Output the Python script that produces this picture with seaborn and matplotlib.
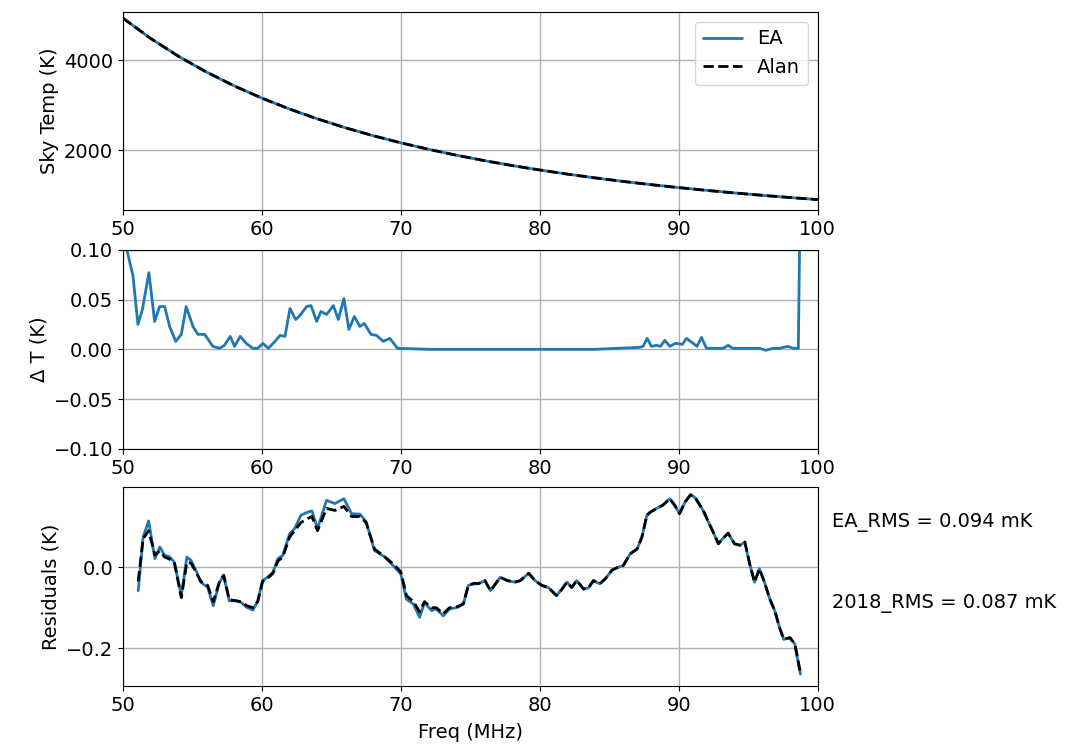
import numpy as np
import pandas as pd
import matplotlib
matplotlib.use('Agg')
import matplotlib.pyplot as plt
import seaborn as sns

# sky temperature
freq_sky = [50, 52, 54, 56, 58, 60, 62, 64, 66, 68, 70, 72, 74, 76, 78,
            80, 82, 84, 86, 88, 90, 92, 94, 96, 98, 100]
sky_ea = [4930, 4478, 4083, 3735, 3427, 3154, 2911, 2693, 2497, 2321, 2162,
          2018, 1887, 1767, 1658, 1559, 1467, 1383, 1305, 1234, 1168, 1107,
          1050, 997, 948, 902]
sky_alan = sky_ea

# difference between the two models
freq_dt = [50.0, 50.3, 50.72, 51.08, 51.4, 51.87, 52.28, 52.64, 53.0, 53.36,
           53.8, 54.2, 54.55, 55.04, 55.4, 55.88, 56.47, 56.95, 57.3, 57.72,
           58.03, 58.44, 58.87, 59.35, 59.7, 60.07, 60.46, 60.94, 61.3, 61.66,
           62.02, 62.43, 62.74, 63.22, 63.53, 63.94, 64.25, 64.66, 65.14, 65.5,
           65.9, 66.26, 66.65, 67.05, 67.37, 67.85, 68.25, 68.73, 69.2, 69.76,
           72.0, 76.0, 80.0, 84.0, 87.19, 87.43, 87.72, 88.03, 88.39, 88.68,
           88.99, 89.35, 89.78, 90.26, 90.55, 91.03, 91.31, 91.63, 91.99, 93.19,
           93.55, 93.9, 95.82, 96.25, 96.78, 97.26, 97.86, 98.22, 98.6, 98.95]
delta_t = [0.13, 0.099, 0.074, 0.025, 0.04, 0.077, 0.028, 0.043, 0.043, 0.023,
           0.008, 0.015, 0.043, 0.023, 0.015, 0.015, 0.003, 0.001, 0.004, 0.013,
           0.003, 0.013, 0.006, 0.001, 0.001, 0.006, 0.001, 0.008, 0.014, 0.013,
           0.041, 0.03, 0.034, 0.043, 0.044, 0.028, 0.038, 0.035, 0.044, 0.03,
           0.051, 0.02, 0.033, 0.023, 0.026, 0.015, 0.014, 0.008, 0.011, 0.001,
           0.0, 0.0, 0.0, 0.0, 0.002, 0.003, 0.011, 0.003, 0.004, 0.003,
           0.009, 0.003, 0.006, 0.005, 0.011, 0.006, 0.003, 0.012, 0.001, 0.001,
           0.004, 0.001, 0.001, -0.001, 0.001, 0.001, 0.003, 0.001, 0.001, 0.4]

# fit residuals
freq_res = [51.1, 51.45, 51.85, 52.3, 52.65, 53.0, 53.35, 53.7, 54.2, 54.6,
            54.9, 55.3, 55.6, 56.1, 56.5, 56.95, 57.25, 57.65, 58.15, 58.5,
            58.9, 59.35, 59.7, 60.05, 60.4, 60.8, 61.15, 61.5, 62.0, 62.35,
            62.8, 63.3, 63.6, 64.0, 64.65, 65.25, 65.9, 66.45, 67.05, 67.5,
            68.1, 68.85, 69.55, 70.0, 70.4, 70.9, 71.35, 71.7, 72.2, 72.55,
            73.05, 73.5, 74.1, 74.5, 74.85, 75.25, 75.6, 76.05, 76.45, 77.15,
            77.65, 78.2, 78.6, 79.2, 79.65, 80.15, 80.6, 81.2, 81.6, 81.95,
            82.3, 82.65, 83.15, 83.5, 83.85, 84.3, 84.7, 85.2, 85.65, 86.0,
            86.5, 87.0, 87.35, 87.7, 87.95, 88.4, 88.85, 89.35, 89.7, 90.05,
            90.45, 90.85, 91.25, 91.75, 92.25, 92.85, 93.15, 93.55, 94.0, 94.4,
            94.75, 95.1, 95.45, 95.8, 96.2, 96.55, 96.9, 97.25, 97.55, 98.0,
            98.35, 98.75]
res_ea = [-0.058, 0.074, 0.114, 0.021, 0.05, 0.029, 0.026, 0.012, -0.07, 0.025,
          0.017, -0.012, -0.037, -0.05, -0.095, -0.037, -0.021, -0.083, -0.083, -0.087,
          -0.099, -0.106, -0.083, -0.033, -0.025, -0.012, 0.021, 0.029, 0.083, 0.095,
          0.128, 0.136, 0.139, 0.095, 0.165, 0.157, 0.169, 0.132, 0.131, 0.112,
          0.041, 0.025, 0.0, -0.017, -0.079, -0.091, -0.124, -0.087, -0.107, -0.103,
          -0.12, -0.103, -0.099, -0.091, -0.045, -0.041, -0.041, -0.033, -0.058, -0.025,
          -0.033, -0.037, -0.033, -0.015, -0.033, -0.045, -0.05, -0.07, -0.054, -0.037,
          -0.05, -0.033, -0.054, -0.051, -0.033, -0.041, -0.029, -0.007, 0.0, 0.004,
          0.033, 0.045, 0.075, 0.128, 0.136, 0.145, 0.153, 0.169, 0.153, 0.132,
          0.161, 0.18, 0.169, 0.14, 0.103, 0.058, 0.07, 0.084, 0.058, 0.054,
          0.062, 0.008, -0.037, -0.004, -0.041, -0.079, -0.107, -0.149, -0.178, -0.174,
          -0.19, -0.264]
res_alan = [-0.035, 0.07, 0.09, 0.03, 0.04, 0.025, 0.02, 0.012, -0.075, 0.012,
            0.01, -0.015, -0.035, -0.045, -0.085, -0.035, -0.02, -0.08, -0.083, -0.085,
            -0.095, -0.1, -0.085, -0.035, -0.028, -0.015, 0.015, 0.025, 0.075, 0.09,
            0.11, 0.12, 0.125, 0.09, 0.145, 0.14, 0.15, 0.125, 0.125, 0.11,
            0.045, 0.025, 0.005, -0.012, -0.07, -0.085, -0.11, -0.085, -0.1, -0.1,
            -0.115, -0.1, -0.097, -0.09, -0.045, -0.04, -0.04, -0.033, -0.058, -0.025,
            -0.033, -0.037, -0.033, -0.015, -0.033, -0.045, -0.05, -0.07, -0.054, -0.037,
            -0.05, -0.033, -0.054, -0.051, -0.033, -0.041, -0.029, -0.007, 0.0, 0.004,
            0.033, 0.045, 0.075, 0.128, 0.136, 0.145, 0.153, 0.169, 0.153, 0.132,
            0.161, 0.178, 0.167, 0.14, 0.103, 0.058, 0.07, 0.084, 0.058, 0.054,
            0.062, 0.008, -0.037, -0.004, -0.041, -0.079, -0.107, -0.149, -0.178, -0.174,
            -0.19, -0.26]

sns.set_style('ticks')
plt.rcParams['font.family'] = ['DejaVu Sans']
plt.rcParams['font.size'] = 14
plt.rcParams['text.color'] = 'k'
plt.rcParams['axes.labelcolor'] = 'k'
plt.rcParams['xtick.color'] = 'k'
plt.rcParams['ytick.color'] = 'k'

fig = plt.figure(figsize=(10.69, 7.48), dpi=100)
left, width = 0.115, 0.65
ax1 = fig.add_axes([left, 0.719, width, 0.265])
ax2 = fig.add_axes([left, 0.400, width, 0.266])
ax3 = fig.add_axes([left, 0.083, width, 0.266])

blue = '#1f77b4'

sns.lineplot(x=freq_sky, y=sky_ea, ax=ax1, color=blue, lw=2, label='EA', sort=False)
sns.lineplot(x=freq_sky, y=sky_alan, ax=ax1, color='k', lw=2, ls='--', label='Alan', sort=False)
ax1.set_ylim(667, 5067)
ax1.set_yticks([2000, 4000])
ax1.set_ylabel('Sky Temp (K)')
ax1.legend(loc='upper right', fontsize=14)

sns.lineplot(x=freq_dt, y=delta_t, ax=ax2, color=blue, lw=2, sort=False)
ax2.set_ylim(-0.1, 0.1)
ax2.set_yticks([-0.10, -0.05, 0.00, 0.05, 0.10])
ax2.set_ylabel('Δ T (K)')

sns.lineplot(x=freq_res, y=res_ea, ax=ax3, color=blue, lw=2, sort=False)
sns.lineplot(x=freq_res, y=res_alan, ax=ax3, color='k', lw=2, ls='--', sort=False)
ax3.set_ylim(-0.293, 0.198)
ax3.set_yticks([-0.2, 0.0])
ax3.set_ylabel('Residuals (K)')
ax3.set_xlabel('Freq (MHz)', labelpad=6)
ax3.text(101, 0.1, 'EA_RMS = 0.094 mK', fontsize=14)
ax3.text(101, -0.1, '2018_RMS = 0.087 mK', fontsize=14)

for ax in (ax1, ax2, ax3):
    ax.set_xlim(50, 100)
    ax.set_xticks([50, 60, 70, 80, 90, 100])
    ax.grid(True, color='#b0b0b0', lw=1)
    ax.tick_params(labelsize=14)
    for s in ax.spines.values():
        s.set_visible(True)
        s.set_color('k')

fig.savefig('out.png', dpi=100)
